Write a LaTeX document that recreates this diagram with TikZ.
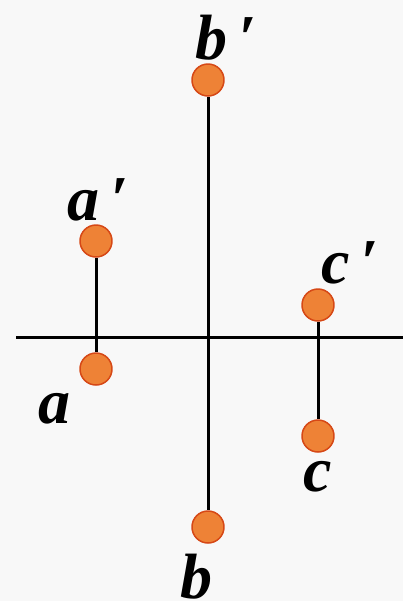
\documentclass[tikz,border=0pt]{standalone}
\usepackage{fontspec}
\setmainfont{Liberation Serif}
\usetikzlibrary{positioning}
\definecolor{dotfill}{RGB}{238,130,54}
\definecolor{dotrim}{RGB}{214,72,22}
\definecolor{paper}{RGB}{248,248,248}
\tikzset{
  dot/.style={circle,fill=dotfill,draw=dotrim,line width=0.75pt,inner sep=0pt,minimum size=16pt},
  lbl/.style={font=\fontsize{32}{34}\selectfont\bfseries\itshape,inner sep=0pt},
  stem/.style={line width=1.5pt}
}
\begin{document}
\begin{tikzpicture}[line cap=butt,line join=round,x=0.5pt,y=-0.5pt]
	\fill[paper] (0,0) rectangle (403,601);
	\useasboundingbox (0,0) rectangle (403,601);
	% axis
	\coordinate (axl) at (16,337);
	\coordinate (axr) at (403,337);
	\draw[stem] (axl) -- (axr);
	% points
	\node[dot] (bp) at (208,80) {};
	\node[dot] (b) at (208,527) {};
	\node[dot] (ap) at (96,241) {};
	\node[dot] (a) at (96,369) {};
	\node[dot] (cp) at (318,305) {};
	\node[dot] (c) at (318,436) {};
	\draw[stem] (bp) -- (b);
	\draw[stem] (ap) -- (a);
	\draw[stem] (cp) -- (c);
	% labels
	\node[lbl] (lbp) at (226,38) {b\,′};
	\node[lbl] (lap) at (98,200) {a\,′};
	\node[lbl] (lcp) at (350,263) {c\,′};
	\node[lbl] (la) at (55,409) {a};
	\node[lbl] (lc) at (318,477) {c};
	\node[lbl] (lb) at (196,577) {b};
\end{tikzpicture}
\end{document}
